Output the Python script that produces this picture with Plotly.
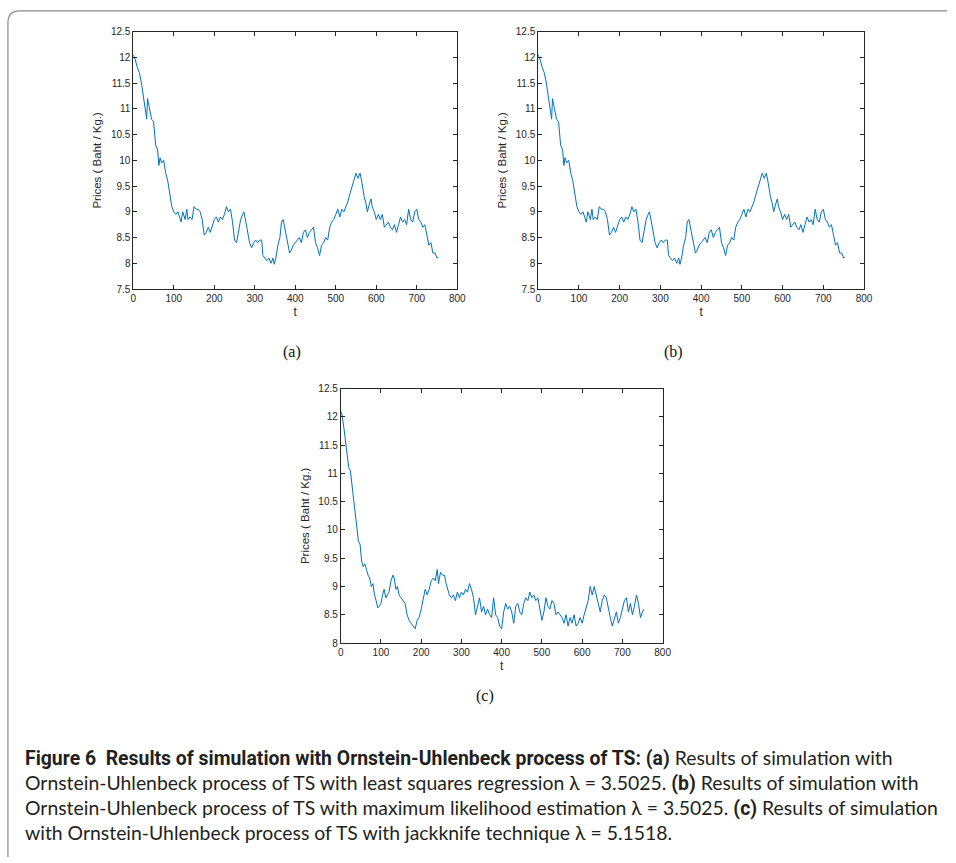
import plotly.graph_objects as go

# ---- data ----
t_ab = [0, 5, 10, 15, 20, 25, 30, 33, 35, 40, 45, 50, 55, 60, 63, 66, 70, 75, 80, 85, 90, 95,
        100, 105, 110, 115, 118, 122, 128, 132, 135, 140, 145, 150, 155, 160, 165, 170, 175,
        180, 185, 190, 195, 200, 205, 210, 215, 220, 225, 230, 235, 240, 245, 250, 255, 260,
        265, 270, 273, 278, 282, 287, 292, 297, 302, 307, 312, 317, 320, 325, 330, 335, 340,
        345, 348, 352, 357, 362, 366, 370, 374, 378, 382, 386, 390, 395, 400, 405, 410, 415,
        420, 425, 430, 435, 440, 445, 450, 455, 460, 465, 470, 475, 480, 485, 490, 495, 500,
        505, 510, 515, 520, 525, 530, 535, 540, 545, 550, 555, 560, 565, 570, 575, 578, 583,
        587, 590, 595, 600, 605, 610, 615, 620, 625, 630, 635, 640, 645, 650, 655, 660, 665,
        670, 675, 680, 685, 690, 695, 700, 705, 710, 715, 720, 725, 730, 735, 740, 745, 750, 753]
price_ab = [12.05, 11.95, 11.8, 11.7, 11.5, 11.2, 10.9, 10.8, 11.2, 11.0, 10.8, 10.75, 10.3, 10.2,
            9.9, 10.05, 9.95, 10.0, 9.75, 9.6, 9.35, 9.1,
            9.0, 8.95, 9.0, 8.85, 8.8, 9.0, 8.85, 9.05, 8.85, 8.9, 8.85, 9.1, 9.05, 9.05, 9.0,
            8.85, 8.55, 8.6, 8.7, 8.6, 8.75, 8.85, 8.9, 8.8, 8.9, 8.85, 8.95, 9.1, 9.0, 9.05,
            8.8, 8.45, 8.4, 8.6, 8.85, 8.95, 9.0, 8.8, 8.65, 8.4, 8.3, 8.4, 8.45, 8.4, 8.45,
            8.45, 8.15, 8.1, 8.05, 8.1, 8.0, 8.1, 7.98, 8.1, 8.35, 8.5, 8.8, 8.85, 8.7, 8.5,
            8.4, 8.2, 8.25, 8.35, 8.4, 8.45, 8.5, 8.4, 8.6, 8.65, 8.5, 8.6, 8.65, 8.7, 8.4,
            8.3, 8.15, 8.35, 8.4, 8.5, 8.45, 8.7, 8.8, 8.85, 8.95, 9.05, 8.9, 9.05, 9.0, 9.1,
            9.2, 9.35, 9.5, 9.6, 9.75, 9.65, 9.75, 9.55, 9.3, 9.15, 9.0, 9.15, 9.25, 9.1, 9.0,
            8.85, 8.95, 8.85, 8.95, 8.7, 8.75, 8.8, 8.7, 8.65, 8.75, 8.6, 8.75, 8.9, 8.8, 8.85,
            8.75, 9.05, 8.85, 8.8, 9.0, 9.05, 8.85, 8.8, 8.7, 8.75, 8.55, 8.35, 8.4, 8.2, 8.2,
            8.1, 8.12]

t_c = [0, 3, 8, 12, 16, 20, 24, 28, 32, 36, 40, 44, 48, 52, 56, 60, 64, 68, 72, 76, 80, 84, 88,
       92, 96, 100, 104, 108, 112, 116, 120, 125, 130, 133, 137, 141, 145, 150, 155, 160, 165,
       170, 175, 180, 185, 190, 195, 200, 205, 210, 215, 220, 225, 230, 235, 240, 243, 248,
       253, 258, 262, 266, 270, 275, 280, 285, 290, 295, 300, 305, 310, 315, 320, 325, 330,
       335, 340, 345, 350, 355, 360, 365, 370, 375, 380, 385, 390, 395, 400, 405, 410, 415,
       420, 425, 430, 435, 440, 445, 450, 455, 460, 465, 470, 475, 480, 485, 490, 495, 500,
       505, 510, 515, 520, 525, 530, 535, 540, 545, 550, 555, 560, 565, 570, 575, 580, 585,
       590, 595, 600, 605, 610, 615, 620, 625, 630, 635, 640, 645, 650, 655, 660, 665, 670,
       675, 680, 685, 690, 695, 700, 705, 710, 715, 720, 725, 730, 735, 740, 745, 750, 753]
price_c = [12.1, 12.05, 11.8, 11.55, 11.3, 11.1, 11.05, 10.8, 10.5, 10.2, 9.95, 9.8, 9.75, 9.45,
           9.35, 9.4, 9.3, 9.2, 9.15, 9.0, 9.05, 8.85, 8.75,
           8.62, 8.65, 8.7, 8.85, 8.95, 8.8, 8.85, 8.9, 9.1, 9.2, 9.15, 8.95, 9.0, 8.85, 8.8,
           8.75, 8.7, 8.5, 8.4, 8.35, 8.3, 8.25, 8.4, 8.45, 8.6, 8.75, 8.95, 8.85, 8.95, 9.1,
           9.15, 9.1, 9.3, 9.05, 9.25, 9.2, 9.2, 9.05, 8.95, 8.85, 8.8, 8.85, 8.75, 8.9, 8.8,
           8.9, 8.85, 8.95, 8.9, 9.05, 8.95, 8.8, 8.5, 8.65, 8.8, 8.55, 8.65, 8.5, 8.6, 8.5,
           8.45, 8.8, 8.5, 8.45, 8.3, 8.25, 8.55, 8.7, 8.6, 8.65, 8.55, 8.35, 8.65, 8.7, 8.55,
           8.5, 8.7, 8.8, 8.75, 8.9, 8.8, 8.85, 8.75, 8.8, 8.6, 8.4, 8.55, 8.8, 8.65, 8.6,
           8.75, 8.7, 8.5, 8.55, 8.5, 8.45, 8.35, 8.5, 8.3, 8.45, 8.35, 8.5, 8.3, 8.35, 8.45,
           8.35, 8.5, 8.65, 8.75, 9.0, 8.85, 9.0, 8.85, 8.65, 8.55, 8.75, 8.85, 8.8, 8.6, 8.45,
           8.3, 8.45, 8.55, 8.35, 8.45, 8.6, 8.75, 8.8, 8.55, 8.7, 8.5, 8.65, 8.85, 8.7, 8.45,
           8.55, 8.6]

x_ticks = [0, 100, 200, 300, 400, 500, 600, 700, 800]
y_ticks_ab = [7.5, 8, 8.5, 9, 9.5, 10, 10.5, 11, 11.5, 12, 12.5]
y_ticks_c = [8, 8.5, 9, 9.5, 10, 10.5, 11, 11.5, 12, 12.5]
panel_labels = ["(a)", "(b)", "(c)"]
y_title = "Prices ( Baht / Kg.)"
x_title = "t"
BOLD = "<b style='font-family:Roboto'>"
caption_lines = [
    BOLD + "Figure 6  Results of simulation with Ornstein-Uhlenbeck process of TS: (a)</b> Results of simulation with",
    "Ornstein-Uhlenbeck process of TS with least squares regression λ = 3.5025. " + BOLD + "(b)</b> Results of simulation with",
    "Ornstein-Uhlenbeck process of TS with maximum likelihood estimation λ = 3.5025. " + BOLD + "(c)</b> Results of simulation",
    "with Ornstein-Uhlenbeck process of TS with jackknife technique λ = 5.1518.",
]

W, H = 956, 863
LINE = "#0072BD"
AX = "#262626"


def px(x):
    return x / W


def py(y):
    return 1 - y / H


fig = go.Figure()
fig.add_trace(go.Scatter(x=t_ab, y=price_ab, mode="lines", line=dict(color=LINE, width=1),
                         xaxis="x", yaxis="y", showlegend=False, hoverinfo="skip"))
fig.add_trace(go.Scatter(x=t_ab, y=price_ab, mode="lines", line=dict(color=LINE, width=1),
                         xaxis="x2", yaxis="y2", showlegend=False, hoverinfo="skip"))
fig.add_trace(go.Scatter(x=t_c, y=price_c, mode="lines", line=dict(color=LINE, width=1),
                         xaxis="x3", yaxis="y3", showlegend=False, hoverinfo="skip"))

common = dict(showline=True, linecolor=AX, linewidth=0.8, mirror="ticks", ticks="inside",
              ticklen=4, tickcolor=AX, showgrid=False, zeroline=False,
              tickfont=dict(family="Liberation Sans, Arial", size=10, color=AX))

def xa(dom, anchor):
    return dict(common, domain=dom, anchor=anchor, range=[0, 800], tickvals=x_ticks,
                title=dict(text=x_title, font=dict(family="Liberation Sans, Arial", size=12, color=AX),
                           standoff=4))

def ya(dom, anchor, rng, tv):
    return dict(common, domain=dom, anchor=anchor, range=rng, tickvals=tv,
                title=dict(text=y_title, font=dict(family="Liberation Sans, Arial", size=11.5, color=AX),
                           standoff=6))

fig.update_layout(
    width=W, height=H, margin=dict(l=0, r=0, t=0, b=0),
    paper_bgcolor="white", plot_bgcolor="white",
    xaxis=xa([px(132), px(460)], "y"),
    yaxis=ya([py(287), py(26)], "x", [7.5, 12.5], y_ticks_ab),
    xaxis2=xa([px(542), px(872)], "y2"),
    yaxis2=ya([py(287), py(26)], "x2", [7.5, 12.5], y_ticks_ab),
    xaxis3=xa([px(342), px(668)], "y3"),
    yaxis3=ya([py(646), py(388)], "x3", [8, 12.5], y_ticks_c),
)

# panel labels
for lab, (x, y) in zip(panel_labels, [(282, 351), (691, 351), (488, 711)]):
    fig.add_annotation(text=lab, x=px(x), y=py(y), xref="paper", yref="paper", showarrow=False,
                       font=dict(family="Liberation Serif, Times New Roman", size=16, color="#111"))

# caption
for i, line in enumerate(caption_lines):
    fig.add_annotation(text=line, x=px(20), y=py(763 + 25 * i), xref="paper", yref="paper",
                       xanchor="left", yanchor="middle", showarrow=False, align="left",
                       font=dict(family="Lato, Liberation Sans", size=19.4, color="#231f20"))

# outer frame
fig.add_shape(type="path", xref="paper", yref="paper",
              path=f"M {px(5)} {py(863)} L {px(5)} {py(17)} Q {px(5)} {py(5)} {px(17)} {py(5)} L {px(956)} {py(5)}",
              line=dict(color="#8c8c8c", width=1.2))

fig.write_html("out.html", config={"displayModeBar": False},
               post_script="document.documentElement.style.margin='0';document.body.style.margin='0';"
                           "document.body.style.padding='0';document.body.style.overflow='hidden';")
